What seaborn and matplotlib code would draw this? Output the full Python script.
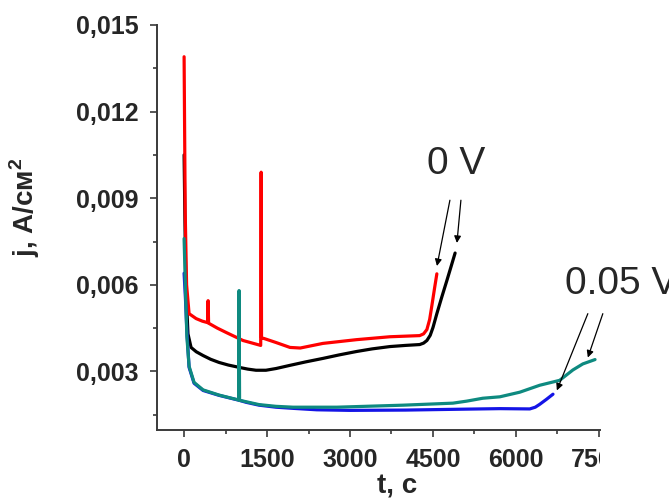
import matplotlib
matplotlib.use("Agg")
import matplotlib.pyplot as plt
from matplotlib.transforms import Bbox
from matplotlib.ticker import MultipleLocator
import seaborn as sns
import pandas as pd

# ---- data ----
red_t = [0, 20, 45, 90, 217, 330, 425, 434, 443, 600, 759, 1066, 1385, 1393, 1400, 1445, 1663, 1915, 2100, 2510, 3120, 3720, 4260, 4330, 4390, 4440, 4480, 4530, 4570]
red_j = [0.0139, 0.0085, 0.0060, 0.00500, 0.00483, 0.00474, 0.00469, 0.00545, 0.00467, 0.00450, 0.00435, 0.00407, 0.00390, 0.0099, 0.00416, 0.00414, 0.00400, 0.00383, 0.00381, 0.00397, 0.00410, 0.00420, 0.00424, 0.00430, 0.00445, 0.00480, 0.00528, 0.00590, 0.00638]

black_t = [0, 30, 70, 126, 220, 343, 480, 632, 800, 994, 1150, 1300, 1480, 1663, 1915, 2200, 2510, 2800, 3120, 3400, 3720, 4000, 4260, 4330, 4390, 4450, 4500, 4570, 4660, 4750, 4830, 4900]
black_j = [0.0105, 0.0060, 0.0043, 0.00383, 0.00368, 0.00355, 0.00342, 0.00331, 0.00322, 0.00314, 0.00308, 0.00304, 0.00304, 0.00310, 0.00321, 0.00333, 0.00345, 0.00357, 0.00369, 0.00378, 0.00386, 0.00390, 0.00393, 0.00398, 0.00407, 0.00425, 0.00452, 0.00500, 0.00558, 0.00614, 0.00665, 0.00710]

blue_t = [0, 25, 50, 90, 180, 343, 632, 994, 1120, 1355, 1660, 1970, 2400, 3000, 4000, 5000, 5710, 6250, 6350, 6430, 6550, 6670]
blue_j = [0.0064, 0.0055, 0.0044, 0.00314, 0.00259, 0.00234, 0.00217, 0.00200, 0.00193, 0.00183, 0.00176, 0.00172, 0.00167, 0.00165, 0.00166, 0.00169, 0.00171, 0.00170, 0.00176, 0.00186, 0.00203, 0.00221]

teal_t = [0, 25, 50, 90, 180, 343, 632, 985, 994, 1003, 1120, 1355, 1660, 1970, 2760, 3960, 4860, 5110, 5400, 5710, 6070, 6430, 6790, 7030, 7210, 7430]
teal_j = [0.0076, 0.0058, 0.0042, 0.00318, 0.00262, 0.00236, 0.00218, 0.00201, 0.0058, 0.00200, 0.00195, 0.00185, 0.00179, 0.00176, 0.00176, 0.00183, 0.00190, 0.00197, 0.00207, 0.00212, 0.00228, 0.00252, 0.00269, 0.00305, 0.00326, 0.00341]

y_ticks = [0.003, 0.006, 0.009, 0.012, 0.015]
y_tick_labels = ["0,003", "0,006", "0,009", "0,012", "0,015"]
x_ticks = [0, 1500, 3000, 4500, 6000, 7500]
x_tick_labels = ["0", "1500", "3000", "4500", "6000", "7500"]

# annotation positions (data coords): label, text pos, arrow tails and heads
label_0V = "0 V"
label_005V = "0.05 V"
text_0V = (4915, 0.01017)
text_005V = (6885, 0.00603)
arrows_0V = [((4806, 0.00893), (4572, 0.00665)), ((5005, 0.00893), (4933, 0.00745))]
arrows_005V = [((7300, 0.00500), (6740, 0.00234)), ((7571, 0.00500), (7300, 0.00348))]

# ---- figure ----
sns.set_style("white")
plt.rcParams["font.family"] = ["Liberation Sans", "DejaVu Sans"]
plt.rcParams["mathtext.fontset"] = "custom"
plt.rcParams["mathtext.bf"] = "Liberation Sans:bold"
plt.rcParams["mathtext.rm"] = "Liberation Sans"

fig = plt.figure(figsize=(6.69, 5.03), dpi=100)
ax = fig.add_axes([157 / 669, 1 - 430 / 503, (600 - 157) / 669, (430 - 25) / 503])

series = [
    (black_t, black_j, "#000000"),
    (red_t, red_j, "#ff0000"),
    (blue_t, blue_j, "#1414e6"),
    (teal_t, teal_j, "#0e8a80"),
]
for t, j, c in series:
    df = pd.DataFrame({"t": t, "j": j})
    sns.lineplot(data=df, x="t", y="j", ax=ax, color=c, lw=2.3, sort=False, estimator=None)

ax.set_xlim(-490, 7520)
ax.set_ylim(0.00097, 0.015)

ax.set_xticks(x_ticks)
ax.set_xticklabels(x_tick_labels)
ax.set_yticks(y_ticks)
ax.set_yticklabels(y_tick_labels)
ax.xaxis.set_minor_locator(MultipleLocator(750))
ax.yaxis.set_minor_locator(MultipleLocator(0.0015))

for side in ["top", "right"]:
    ax.spines[side].set_visible(False)
for side in ["left", "bottom"]:
    ax.spines[side].set_color("#3a3a3a")
    ax.spines[side].set_linewidth(1.4)

ax.tick_params(which="major", direction="out", length=5, width=1.2, color="#3a3a3a",
               labelsize=18, pad=8, left=True, bottom=True)
ax.tick_params(which="minor", direction="out", length=3, width=1.2, color="#3a3a3a",
               left=True, bottom=True)
for lab in ax.get_xticklabels() + ax.get_yticklabels():
    lab.set_fontweight("bold")

# clip the last x tick label at the right edge of the axes (as in the reference)
clip = Bbox.from_extents(0, 0, 600, 503)
for lab in ax.get_xticklabels():
    lab.set_clip_box(clip)
    lab.set_clip_on(True)

ax.set_xlabel("t, c", fontsize=20, fontweight="bold")
ax.xaxis.set_label_coords((397 - 157) / 443, (430 - 474) / 405)
ax.set_ylabel("")
fig.text(25 / 669, 1 - 207 / 503, r"j, A/см$^{\mathbf{2}}$", rotation=90, ha="center", va="center",
         fontsize=20, fontweight="bold")

ax.text(*text_0V, label_0V, fontsize=28, ha="center", va="center")
ax.text(*text_005V, label_005V, fontsize=28, ha="left", va="center", clip_on=False)
for tail, head in arrows_0V + arrows_005V:
    ax.annotate("", xy=head, xytext=tail,
                arrowprops=dict(arrowstyle="-|>", lw=0.9, color="black",
                                mutation_scale=10, shrinkA=0, shrinkB=0))

fig.savefig("out.png", dpi=100)
